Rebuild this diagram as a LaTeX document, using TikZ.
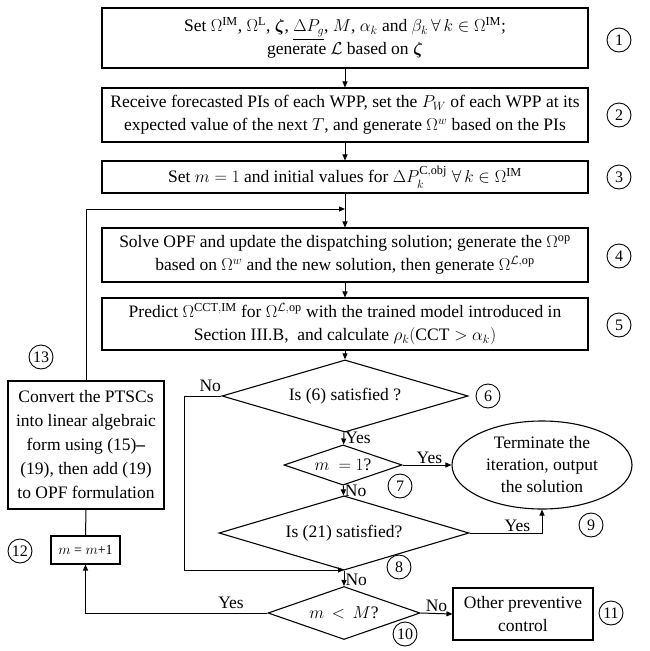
\documentclass[tikz,border=0pt]{standalone}
\usepackage{fontspec}
\setmainfont{Liberation Serif}
\usepackage{amsmath, amssymb, bm}
\usetikzlibrary{shapes.geometric, arrows.meta}

\begin{document}
\begin{tikzpicture}[%
x=1pt, y=-1pt,
font=\fontsize{17.5}{23}\selectfont,
every path/.style={line width=1pt},
arr/.style={-{Triangle[length=6pt,width=5pt]}},
procbox/.style={draw, rectangle, line width=1.1pt, align=center, inner sep=0pt},
decide/.style={draw, diamond, line width=1.1pt, inner sep=0pt, aspect=2},
stepnum/.style={draw, circle, line width=0.9pt, inner sep=0pt, minimum size=24pt, font=\fontsize{16}{16}\selectfont},
lab/.style={inner sep=1pt, font=\fontsize{17.5}{17.5}\selectfont},
]
\useasboundingbox (0,0) rectangle (649,651);
%% boxes;
\node[procbox, minimum width=486pt, minimum height=60pt] (box1) at (345,38)
  {Set $\Omega^{\mathrm{IM}}$, $\Omega^{\mathrm{L}}$, $\bm{\zeta}$, $\underline{\Delta P_g}$, $M$, $\alpha_k$ and $\beta_k\,\forall\, k \in \Omega^{\mathrm{IM}}$;\\ generate $\mathcal{L}$ based on $\bm{\zeta}$};
\node[procbox, minimum width=486pt, minimum height=54pt] (box2) at (345,115)
  {Receive forecasted PIs of each WPP, set the $P_W$ of each WPP at its\\ expected value of the next $T$, and generate $\Omega^w$ based on the PIs};
\node[procbox, minimum width=486pt, minimum height=32pt] (box3) at (345,177)
  {Set $m=1$ and initial values for $\Delta P_k^{\mathrm{C,obj}}\;\forall\, k\in\Omega^{\mathrm{IM}}$};
\node[procbox, minimum width=486pt, minimum height=54pt] (box4) at (345,255)
  {Solve OPF and update the dispatching solution; generate the $\Omega^{\mathrm{op}}$\\ based on $\Omega^w$ and the new solution, then generate $\Omega^{\mathcal{L},\mathrm{op}}$};
\node[procbox, minimum width=486pt, minimum height=52pt] (box5) at (345,324)
  {Predict $\Omega^{\mathrm{CCT,IM}}$ for $\Omega^{\mathcal{L},\mathrm{op}}$ with the trained model introduced in\\ Section III.B, \ and calculate $\rho_k(\mathrm{CCT}>\alpha_k)$};
\node[procbox, minimum width=156pt, minimum height=128pt, font=\fontsize{17.5}{24}\selectfont] (box13) at (86,445)
  {Convert the PTSCs\\ into linear algebraic\\ form using (15)\textbf{--}\\ (19), then add (19)\\ to OPF formulation};
\node[procbox, minimum width=69pt, minimum height=28pt, font=\fontsize{14}{14}\selectfont] (box12) at (85.5,550) {$m$ = $m$+1};
\node[procbox, minimum width=140pt, minimum height=52pt] (box11) at (523,614) {Other preventive\\ control};
%% decisions;
\node[decide, minimum width=246pt, minimum height=52pt] (dec6) at (345,396) {Is (6) satisfied ?};
\node[decide, minimum width=118pt, minimum height=35pt] (dec7) at (343,465) {$m\ = 1$?};
\node[decide, minimum width=250pt, minimum height=51pt] (dec8) at (344,533) {Is (21) satisfied?};
\node[decide, minimum width=152pt, minimum height=53pt] (dec10) at (344,613) {$m\,<\,M$?};
%% terminal;
\node[draw, ellipse, line width=1.1pt, minimum width=180pt, minimum height=88pt, align=center, inner sep=0pt, font=\fontsize{17.5}{22}\selectfont] (ell9) at (542,465)
  {Terminate the\\ iteration, output\\ the solution};
%% step numbers;
\node[stepnum] (c1) at (619,40) {1};
\node[stepnum] (c2) at (619,115) {2};
\node[stepnum] (c3) at (619,177) {3};
\node[stepnum] (c4) at (619,256) {4};
\node[stepnum] (c5) at (619,325) {5};
\node[stepnum] (c6) at (488,396) {6};
\node[stepnum] (c7) at (400,486) {7};
\node[stepnum] (c8) at (399,567) {8};
\node[stepnum] (c9) at (591,525) {9};
\node[stepnum] (c10) at (405,634) {10};
\node[stepnum] (c11) at (611,613) {11};
\node[stepnum] (c12) at (20,551) {12};
\node[stepnum] (c13) at (41,357) {13};
%% junctions;
\coordinate (loopin) at (345,209);
\coordinate (noturn) at (184,570);
\coordinate (noin) at (344,570);
%% connectors;
\draw[arr] (box1) -- (box2);
\draw[arr] (box2) -- (box3);
\draw[arr] (box3.south) -- (box4.north);
\draw[arr] (box13.north) |- (loopin);
\draw[arr] (box4) -- (box5);
\draw[arr] (box5) -- (dec6);
\draw[arr] (dec6) -- node[lab, pos=0.45, right] {Yes} (dec7);
\draw[arr] (dec7.east) -- node[lab, pos=0.55, above] {Yes} (ell9.west |- dec7.east);
\draw[arr] (dec7) -- node[lab, pos=0.5, right] {No} (dec8);
\draw[arr] (dec8.east) -| node[lab, pos=0.33, above] {Yes} (ell9.south);
\draw[arr] (dec6.west) node[lab, anchor=south east, xshift=1pt, yshift=3pt] {No} -| (noturn) -- (noin);
\draw[arr] (dec8) -- node[lab, pos=0.6, right] {No} (dec10);
\draw[arr] (dec10.east) -- node[lab, pos=0.5, above] {No} (box11.west);
\draw[arr] (dec10.west) -| node[lab, pos=0.1, above=3pt] {Yes} (box12.south);
\draw (box12.north) -- (box13.south);
\end{tikzpicture}
\end{document}
